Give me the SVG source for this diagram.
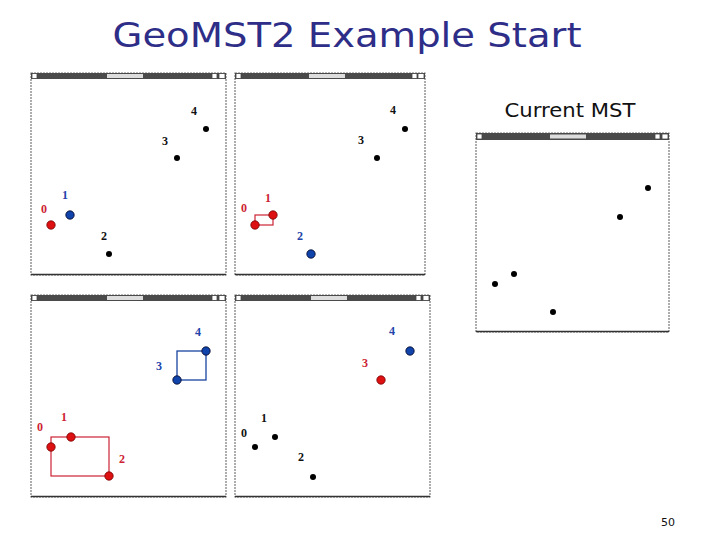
<svg xmlns="http://www.w3.org/2000/svg" width="720" height="540" viewBox="0 0 720 540">
<style>
.win{fill:#fff;stroke:#777;stroke-width:1.2;stroke-dasharray:2 1}
.bot{stroke:#333;stroke-width:1.5}
.bar{fill:#4a4a4a}
.btn{fill:#fff;stroke:#444;stroke-width:0.8}
.ttl{fill:#ddd}
.dk{fill:#000}
.rd{fill:#dd1111;stroke:#700;stroke-width:0.8}
.bl{fill:#1144aa;stroke:#002;stroke-width:0.8}
.lb{font-family:"Liberation Serif",serif;font-weight:bold;font-size:12px;text-anchor:middle}
.lk{fill:#111}.lr{fill:#cc2233}.lbb{fill:#2244aa}
.er{fill:none;stroke:#cc2233;stroke-width:1.2}
.eb{fill:none;stroke:#1a44a0;stroke-width:1.3}
</style>
<rect width="720" height="540" fill="#fff"/>
<text x="347" y="47" font-family="DejaVu Sans,Verdana,sans-serif" font-size="34" fill="#2e2e88" text-anchor="middle" textLength="469" lengthAdjust="spacingAndGlyphs">GeoMST2 Example Start</text>
<text x="570" y="117" font-family="DejaVu Sans,Verdana,sans-serif" font-size="19" fill="#111" text-anchor="middle" textLength="131" lengthAdjust="spacingAndGlyphs">Current MST</text>
<text x="668" y="526" font-family="DejaVu Sans,Verdana,sans-serif" font-size="11" fill="#111" text-anchor="middle">50</text>

<g id="panel1">
<rect class="win" x="31" y="73" width="195" height="202"/>
<line class="bot" x1="31" y1="274.5" x2="226" y2="274.5"/>
<rect class="bar" x="31" y="73" width="195" height="6"/>
<rect class="btn" x="32" y="73.5" width="5" height="5"/><rect class="btn" x="212" y="73.5" width="5" height="5"/><rect class="btn" x="219" y="73.5" width="6" height="5"/>
<rect class="ttl" x="107" y="74" width="36" height="4"/>
<text class="lb lk" x="194" y="115">4</text><circle class="dk" cx="206" cy="129" r="3"/>
<text class="lb lk" x="165" y="145">3</text><circle class="dk" cx="177" cy="158" r="3"/>
<text class="lb lbb" x="65" y="199">1</text><circle class="bl" cx="70" cy="215" r="4.2"/>
<text class="lb lr" x="44" y="213">0</text><circle class="rd" cx="51" cy="225" r="4.2"/>
<text class="lb lk" x="104" y="240">2</text><circle class="dk" cx="109" cy="254" r="3"/>
</g>

<g id="panel2">
<rect class="win" x="235" y="73" width="190" height="202"/>
<line class="bot" x1="235" y1="274.5" x2="425" y2="274.5"/>
<rect class="bar" x="235" y="73" width="190" height="6"/>
<rect class="btn" x="236" y="73.5" width="5" height="5"/><rect class="btn" x="412" y="73.5" width="5" height="5"/><rect class="btn" x="418" y="73.5" width="6" height="5"/>
<rect class="ttl" x="309" y="74" width="36" height="4"/>
<text class="lb lk" x="393" y="114">4</text><circle class="dk" cx="405" cy="129" r="3"/>
<text class="lb lk" x="361" y="144">3</text><circle class="dk" cx="377" cy="158" r="3"/>
<rect class="er" x="255" y="215" width="18" height="10"/>
<text class="lb lr" x="268" y="202">1</text><circle class="rd" cx="273" cy="215" r="4.2"/>
<text class="lb lr" x="244" y="212">0</text><circle class="rd" cx="255" cy="225" r="4.2"/>
<text class="lb lbb" x="300" y="240">2</text><circle class="bl" cx="311" cy="254" r="4.2"/>
</g>

<g id="panel3">
<rect class="win" x="31" y="295" width="195" height="202"/>
<line class="bot" x1="31" y1="496.5" x2="226" y2="496.5"/>
<rect class="bar" x="31" y="295" width="195" height="6"/>
<rect class="btn" x="32" y="295.5" width="5" height="5"/><rect class="btn" x="212" y="295.5" width="5" height="5"/><rect class="btn" x="219" y="295.5" width="6" height="5"/>
<rect class="ttl" x="107" y="296" width="36" height="4"/>
<rect class="eb" x="177" y="351" width="29" height="29"/>
<rect class="er" x="51" y="437" width="58" height="39"/>
<text class="lb lbb" x="198" y="336">4</text><circle class="bl" cx="206" cy="351" r="4.2"/>
<text class="lb lbb" x="159" y="370">3</text><circle class="bl" cx="177" cy="380" r="4.2"/>
<text class="lb lr" x="64" y="421">1</text><circle class="rd" cx="71" cy="437" r="4.2"/>
<text class="lb lr" x="40" y="431">0</text><circle class="rd" cx="51" cy="447" r="4.2"/>
<text class="lb lr" x="122" y="463">2</text><circle class="rd" cx="109" cy="476" r="4.2"/>
</g>

<g id="panel4">
<rect class="win" x="235" y="295" width="195" height="202"/>
<line class="bot" x1="235" y1="496.5" x2="430" y2="496.5"/>
<rect class="bar" x="235" y="295" width="195" height="6"/>
<rect class="btn" x="236" y="295.5" width="5" height="5"/><rect class="btn" x="416" y="295.5" width="5" height="5"/><rect class="btn" x="423" y="295.5" width="6" height="5"/>
<rect class="ttl" x="311" y="296" width="36" height="4"/>
<text class="lb lbb" x="392" y="335">4</text><circle class="bl" cx="410" cy="351" r="4.2"/>
<text class="lb lr" x="365" y="367">3</text><circle class="rd" cx="381" cy="380" r="4.2"/>
<text class="lb lk" x="264" y="422">1</text><circle class="dk" cx="275" cy="437" r="3"/>
<text class="lb lk" x="244" y="437">0</text><circle class="dk" cx="255" cy="447" r="3"/>
<text class="lb lk" x="301" y="461">2</text><circle class="dk" cx="313" cy="477" r="3"/>
</g>

<g id="current">
<rect class="win" x="476" y="133" width="193" height="199"/>
<line class="bot" x1="476" y1="331.5" x2="669" y2="331.5"/>
<rect class="bar" x="476" y="133" width="193" height="7"/>
<rect class="btn" x="477" y="134" width="5" height="5"/><rect class="btn" x="655" y="134" width="5" height="5"/><rect class="btn" x="662" y="134" width="6" height="5"/>
<rect class="ttl" x="550" y="134.5" width="36" height="4"/>
<circle class="dk" cx="648" cy="188" r="3"/>
<circle class="dk" cx="620" cy="217" r="3"/>
<circle class="dk" cx="514" cy="274" r="3"/>
<circle class="dk" cx="495" cy="284" r="3"/>
<circle class="dk" cx="553" cy="312" r="3"/>
</g>
<g id="connectors"></g>
</svg>
